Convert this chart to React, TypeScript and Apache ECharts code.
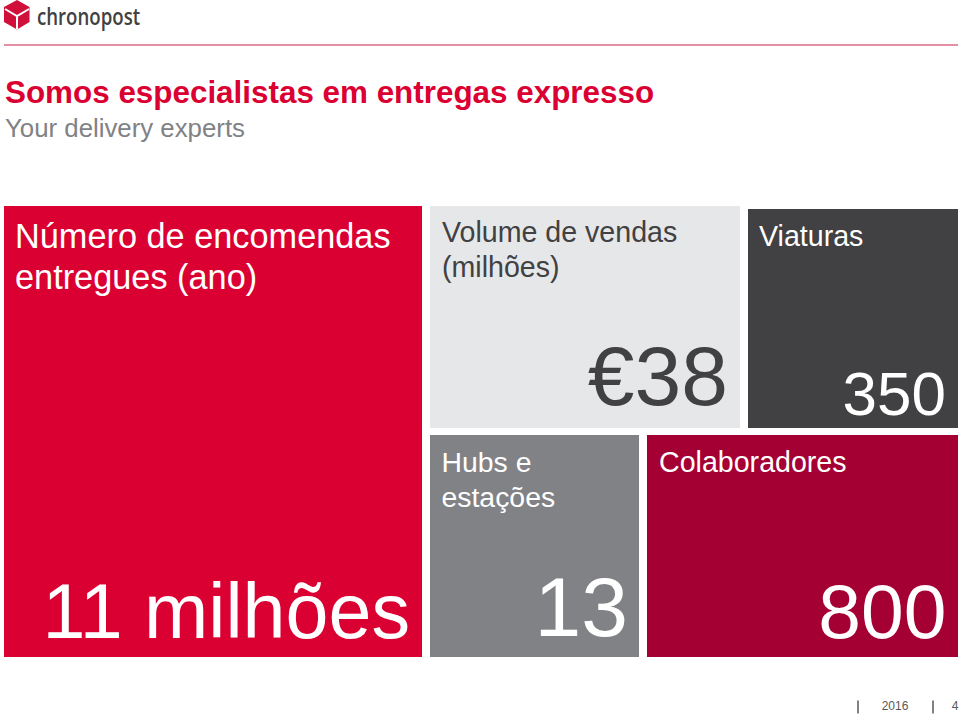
import React, { useEffect, useRef } from "react";
import * as echarts from "echarts";

const FONT = '"Liberation Sans", Arial, sans-serif';
const titleText = "Somos especialistas em entregas expresso";
const subtitleText = "Your delivery experts";
const brandText = "chronopost";
const footerYear = "2016";
const footerPage = "4";

const tileLabels = ["Número de encomendas\nentregues (ano)", "Volume de vendas\n(milhões)", "Viaturas", "Hubs e\nestações", "Colaboradores"];
const tileValues = ["11 milhões", "€38", "350", "13", "800"];
const tileColors = ["#db0032", "#e6e7e8", "#414042", "#808285", "#a50034"];
const tileText = ["#ffffff", "#414042", "#ffffff", "#ffffff", "#ffffff"];

function makeGraphic() {
  const boxes = [
    { x: 4, y: 206, w: 418, h: 451, lx: 15, ly: 215, ls: 34.3, lh: 41, vr: 410, vb: 649, vs: 77.2 },
    { x: 430, y: 206, w: 310, h: 222, lx: 442, ly: 214, ls: 28.6, lh: 35, vr: 728, vb: 418, vs: 84 },
    { x: 748, y: 209, w: 210, h: 219, lx: 759, ly: 218, ls: 28.6, lh: 35, vr: 946, vb: 424, vs: 62 },
    { x: 430, y: 435, w: 209, h: 222, lx: 441.5, ly: 444, ls: 28.4, lh: 35, vr: 628, vb: 649, vs: 84 },
    { x: 647, y: 435, w: 311, h: 222, lx: 659, ly: 444, ls: 28.6, lh: 35, vr: 946.5, vb: 649, vs: 76.8 },
  ];
  const els: any[] = [];
  boxes.forEach((b, i) => {
    els.push({ type: "rect", shape: { x: b.x, y: b.y, width: b.w, height: b.h }, style: { fill: tileColors[i] } });
    els.push({ type: "text", x: b.lx, y: b.ly, style: { text: tileLabels[i], font: `${b.ls}px ${FONT}`, lineHeight: b.lh, fill: tileText[i], align: "left", verticalAlign: "top" } });
    els.push({ type: "text", x: b.vr, y: b.vb, style: { text: tileValues[i], font: `${b.vs}px ${FONT}`, fill: tileText[i], align: "right", verticalAlign: "bottom" } });
  });
  els.push({ type: "text", x: 5, y: 77, style: { text: titleText, font: `bold 31.4px ${FONT}`, fill: "#db0032", align: "left", verticalAlign: "top" } });
  els.push({ type: "text", x: 5, y: 115, style: { text: subtitleText, font: `25.8px ${FONT}`, fill: "#808285", align: "left", verticalAlign: "top" } });
  els.push({ type: "line", shape: { x1: 4, y1: 45, x2: 958, y2: 45 }, style: { stroke: "#c9204a", lineWidth: 1.2 } });
  // logo
  els.push({ type: "polygon", shape: { points: [[17, 0], [29.5, 7], [29.5, 22], [17, 29.5], [4, 22], [4, 7]] }, style: { fill: "#d0103a" } });
  els.push({ type: "polyline", shape: { points: [[5, 9], [17, 16], [29, 9]] }, style: { stroke: "#ffffff", lineWidth: 2, fill: "none" } });
  els.push({ type: "line", shape: { x1: 17, y1: 16, x2: 17, y2: 29 }, style: { stroke: "#ffffff", lineWidth: 2 } });
  els.push({ type: "text", x: 37, y: 4, scaleX: 0.8, style: { text: brandText, font: `600 23.3px "Open Sans", sans-serif`, fill: "#414042", align: "left", verticalAlign: "top" } });
  // footer
  els.push({ type: "line", shape: { x1: 858, y1: 700.5, x2: 858, y2: 713.5 }, style: { stroke: "#58595b", lineWidth: 1.5 } });
  els.push({ type: "line", shape: { x1: 933, y1: 700.5, x2: 933, y2: 713.5 }, style: { stroke: "#58595b", lineWidth: 1.5 } });
  els.push({ type: "text", x: 895, y: 706, style: { text: footerYear, font: `12px ${FONT}`, fill: "#58595b", align: "center", verticalAlign: "middle" } });
  els.push({ type: "text", x: 955, y: 706, style: { text: footerPage, font: `12px ${FONT}`, fill: "#58595b", align: "center", verticalAlign: "middle" } });
  return els;
}

export default function App() {
  const ref = useRef<HTMLDivElement>(null);
  useEffect(() => {
    const chart = echarts.init(ref.current!, undefined, { renderer: "svg" });
    chart.setOption({ animation: false, backgroundColor: "#ffffff", graphic: { elements: makeGraphic() } });
    return () => chart.dispose();
  }, []);
  return <div ref={ref} style={{ position: "absolute", left: 0, top: 0, width: 960, height: 716 }} />;
}
